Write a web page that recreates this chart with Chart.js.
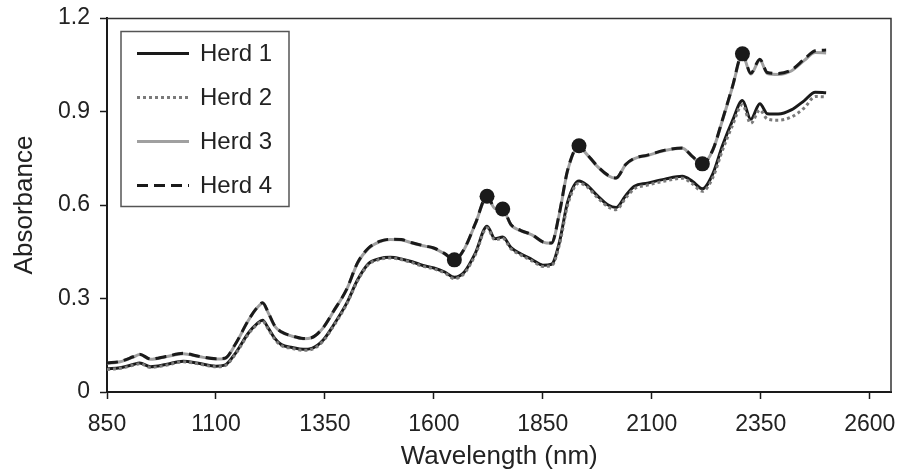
<!DOCTYPE html>
<html><head><meta charset="utf-8">
<script src="https://cdn.jsdelivr.net/npm/chart.js@4/dist/chart.umd.min.js"></script>
<style>html,body{margin:0;padding:0;background:#fff}#wrap{width:899px;height:474px}</style>
</head><body><div id="wrap"><canvas id="c" width="899" height="474"></canvas></div>
<script>
const wavelengths = [850,880,910,925,950,985,1025,1060,1100,1120,1145,1175,1195,1207,1220,1235,1250,1275,1300,1320,1345,1370,1400,1425,1450,1475,1500,1525,1550,1575,1600,1625,1647,1670,1695,1722,1740,1758,1777,1800,1825,1850,1870,1888,1907,1933,1950,1975,2000,2018,2040,2060,2090,2130,2170,2193,2216,2240,2262,2285,2308,2327,2348,2365,2390,2420,2450,2475,2500];
const herd1 = [0.074,0.078,0.088,0.093,0.081,0.088,0.099,0.092,0.083,0.086,0.125,0.190,0.220,0.230,0.205,0.172,0.152,0.143,0.137,0.140,0.165,0.215,0.285,0.360,0.412,0.428,0.432,0.427,0.418,0.406,0.398,0.385,0.368,0.385,0.445,0.532,0.492,0.497,0.463,0.443,0.425,0.407,0.410,0.480,0.610,0.677,0.665,0.630,0.600,0.592,0.630,0.660,0.670,0.683,0.692,0.676,0.652,0.700,0.790,0.870,0.935,0.875,0.925,0.893,0.892,0.905,0.935,0.962,0.960];
const herd2 = [0.072,0.076,0.086,0.091,0.079,0.086,0.097,0.090,0.081,0.084,0.122,0.187,0.217,0.227,0.202,0.169,0.149,0.140,0.134,0.137,0.162,0.212,0.282,0.357,0.409,0.425,0.430,0.425,0.415,0.403,0.395,0.382,0.364,0.381,0.440,0.527,0.488,0.493,0.459,0.439,0.421,0.403,0.405,0.472,0.600,0.670,0.660,0.624,0.594,0.585,0.622,0.652,0.664,0.677,0.686,0.668,0.644,0.688,0.775,0.855,0.922,0.862,0.905,0.876,0.872,0.882,0.912,0.948,0.947];
const herd3 = [0.092,0.097,0.112,0.120,0.105,0.113,0.123,0.114,0.106,0.107,0.154,0.231,0.271,0.285,0.254,0.211,0.192,0.179,0.171,0.174,0.204,0.259,0.329,0.414,0.461,0.482,0.489,0.488,0.478,0.469,0.461,0.443,0.423,0.459,0.539,0.626,0.589,0.586,0.536,0.517,0.504,0.481,0.477,0.572,0.711,0.788,0.764,0.724,0.694,0.686,0.729,0.749,0.759,0.775,0.782,0.755,0.731,0.776,0.871,0.978,1.082,1.020,1.065,1.022,1.019,1.030,1.064,1.089,1.088];
const herd4 = [0.093,0.098,0.113,0.121,0.106,0.114,0.124,0.115,0.107,0.108,0.155,0.232,0.272,0.286,0.255,0.212,0.193,0.180,0.172,0.175,0.205,0.260,0.330,0.415,0.462,0.483,0.490,0.489,0.479,0.470,0.462,0.444,0.424,0.460,0.540,0.628,0.590,0.587,0.537,0.518,0.505,0.482,0.478,0.574,0.713,0.790,0.765,0.725,0.695,0.687,0.730,0.750,0.760,0.776,0.783,0.756,0.732,0.777,0.873,0.980,1.085,1.023,1.068,1.025,1.022,1.033,1.068,1.095,1.097];
const seriesLabels = ['Herd 1','Herd 2','Herd 3','Herd 4'];
const markerWavelengths = [1647,1722,1758,1933,2216,2308];
const markerValues = [0.424,0.628,0.587,0.790,0.732,1.085];
const xTicks = [850,1100,1350,1600,1850,2100,2350,2600];
const yTicks = [0,0.3,0.6,0.9,1.2];

const FONT = "'Liberation Sans', Arial, sans-serif";
const toXY = arr => wavelengths.map((w,i)=>({x:w,y:arr[i]}));

const lineStyles = [
  {color:'#1a1a1a', dash:[], width:3},
  {color:'#7a7a7a', dash:[3,3], width:3},
  {color:'#a0a0a0', dash:[], width:3},
  {color:'#1a1a1a', dash:[11,6], width:3}
];
const seriesData = [herd1, herd2, herd3, herd4];
const orders = [4,3,2,1];

const datasets = seriesData.map((arr,i)=>({
  label: seriesLabels[i],
  data: toXY(arr),
  borderColor: lineStyles[i].color,
  borderDash: lineStyles[i].dash,
  borderWidth: lineStyles[i].width,
  pointRadius: 0,
  fill: false,
  tension: 0.4,
  cubicInterpolationMode: 'monotone',
  order: orders[i]
}));
datasets.push({
  label: 'markers',
  data: markerWavelengths.map((w,i)=>({x:w,y:markerValues[i]})),
  showLine: false,
  pointRadius: 7.5,
  pointBackgroundColor: '#1a1a1a',
  pointBorderWidth: 0,
  order: 0
});

const framePlugin = {
  id: 'frameLegend',
  afterDraw(chart){
    const ctx = chart.ctx, a = chart.chartArea;
    ctx.save();
    ctx.strokeStyle = '#333';
    ctx.lineWidth = 1.5;
    ctx.setLineDash([]);
    ctx.beginPath();
    ctx.moveTo(a.left, a.top + 0.5);
    ctx.lineTo(a.right - 0.5, a.top + 0.5);
    ctx.lineTo(a.right - 0.5, a.bottom);
    ctx.stroke();
    // legend
    const lx = a.left + 14, ly = a.top + 13.5, lw = 168, lh = 175;
    ctx.fillStyle = '#fff';
    ctx.fillRect(lx, ly, lw, lh);
    ctx.strokeStyle = '#555';
    ctx.lineWidth = 1.5;
    ctx.strokeRect(lx, ly, lw, lh);
    ctx.font = '24px ' + FONT;
    ctx.textBaseline = 'middle';
    ctx.textAlign = 'left';
    for (let i = 0; i < 4; i++) {
      const ds = chart.data.datasets[i];
      const y = ly + 22 + i * 44;
      ctx.beginPath();
      ctx.setLineDash(ds.borderDash);
      ctx.lineWidth = ds.borderWidth;
      ctx.strokeStyle = ds.borderColor;
      ctx.moveTo(lx + 16, y);
      ctx.lineTo(lx + 68, y);
      ctx.stroke();
      ctx.setLineDash([]);
      ctx.fillStyle = '#222';
      ctx.fillText(ds.label, lx + 79, y + 1);
    }
    ctx.restore();
  }
};

new Chart(document.getElementById('c'), {
  type: 'line',
  data: { datasets },
  options: {
    responsive: false,
    animation: false,
    devicePixelRatio: 1,
    layout: { padding: { top: 18, right: 7, left: 0, bottom: 0 } },
    plugins: { legend: { display: false }, tooltip: { enabled: false } },
    scales: {
      x: {
        type: 'linear', min: 850, max: 2650,
        afterFit(s){ s.height = 82; s.paddingLeft = 0; s.paddingRight = 0; },
        afterBuildTicks(s){ s.ticks = xTicks.map(v=>({value:v})); },
        grid: { drawOnChartArea: false, tickLength: 7, tickColor: '#1a1a1a', tickWidth: 1.5 },
        border: { color: '#1a1a1a', width: 2 },
        ticks: { color: '#222', font: { family: FONT, size: 23 }, padding: 12, maxRotation: 0, autoSkip: false,
          callback: v => String(v) },
        title: { display: true, text: 'Wavelength (nm)', color: '#222', font: { family: FONT, size: 26 }, padding: { top: 0, bottom: 2 } }
      },
      y: {
        type: 'linear', min: 0, max: 1.2,
        afterFit(s){ s.width = 107; s.paddingTop = 0; s.paddingBottom = 0; },
        afterBuildTicks(s){ s.ticks = yTicks.map(v=>({value:v})); },
        grid: { drawOnChartArea: false, tickLength: 7, tickColor: '#1a1a1a', tickWidth: 1.5 },
        border: { color: '#1a1a1a', width: 2 },
        ticks: { color: '#222', font: { family: FONT, size: 23 }, padding: 10,
          callback: v => v === 0 ? '0' : v.toFixed(1) },
        title: { display: true, text: 'Absorbance', color: '#222', font: { family: FONT, size: 26 }, padding: { top: 9, bottom: 0 } }
      }
    }
  },
  plugins: [framePlugin]
});
</script>
</body></html>
